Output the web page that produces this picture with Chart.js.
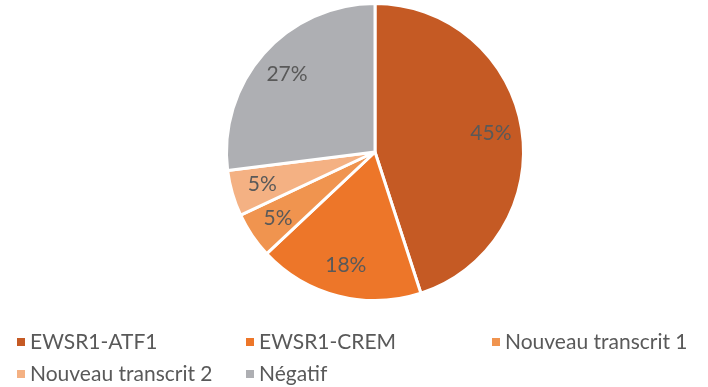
<!DOCTYPE html>
<html>
<head>
<meta charset="utf-8">
<script src="https://cdn.jsdelivr.net/npm/chart.js@4/dist/chart.umd.min.js"></script>
<style>
  html, body { margin: 0; padding: 0; background: #fff; }
  #wrap { position: relative; width: 708px; height: 387px; }
  #legend { position: absolute; left: 0; top: 0; width: 708px; height: 387px; pointer-events: none;
            font-family: Lato, "Open Sans", sans-serif; font-size: 21px; color: #595959; }
  .item { position: absolute; white-space: nowrap; line-height: 22px; }
  .item span.box { position: absolute; left: -13px; top: 8px; width: 8px; height: 8px; }
</style>
</head>
<body>
<div id="wrap">
  <canvas id="mychart" width="708" height="387"></canvas>
  <div id="legend"></div>
</div>
<script>
var categories = ['EWSR1-ATF1', 'EWSR1-CREM', 'Nouveau transcrit 1', 'Nouveau transcrit 2', 'Négatif'];
var percentValues = [45, 18, 5, 5, 27];
var sliceColors = ['#C55A24', '#ED7629', '#F0944F', '#F4B183', '#AEAFB3'];

// legend grid: text start x / row centre y for each entry
var legendX = [30, 259, 505, 30, 259];
var legendY = [341, 341, 341, 373, 373];

// percentage labels drawn inside each slice
var sliceLabels = {
    id: 'sliceLabels',
    afterDatasetsDraw: function(chart) {
        var ctx = chart.ctx;
        var meta = chart.getDatasetMeta(0);
        ctx.save();
        ctx.font = '21px Lato, "Open Sans", sans-serif';
        ctx.fillStyle = '#595959';
        ctx.textAlign = 'center';
        ctx.textBaseline = 'middle';
        meta.data.forEach(function(arc, i) {
            var mid = (arc.startAngle + arc.endAngle) / 2;
            var r = arc.outerRadius * 0.79;
            ctx.fillText(percentValues[i] + '%', arc.x + Math.cos(mid) * r, arc.y + Math.sin(mid) * r);
        });
        ctx.restore();
    }
};

var ctx = document.getElementById('mychart');
var pieChart = new Chart(ctx, {
    type: 'pie',
    data: {
        labels: categories,
        datasets: [{
            data: percentValues,
            backgroundColor: sliceColors,
            borderColor: '#ffffff',
            borderWidth: 3
        }]
    },
    options: {
        responsive: false,
        animation: false,
        layout: { padding: { top: 2, bottom: 85, left: 225, right: 183 } },
        plugins: {
            legend: { display: false },
            tooltip: { enabled: false }
        }
    },
    plugins: [sliceLabels]
});

// legend entries
var legend = document.getElementById('legend');
categories.forEach(function(name, i) {
    var el = document.createElement('div');
    el.className = 'item';
    el.style.left = legendX[i] + 'px';
    el.style.top = (legendY[i] - 11) + 'px';
    el.innerHTML = '<span class="box" style="background:' + sliceColors[i] + '"></span>' + name;
    legend.appendChild(el);
});
</script>
</body>
</html>
